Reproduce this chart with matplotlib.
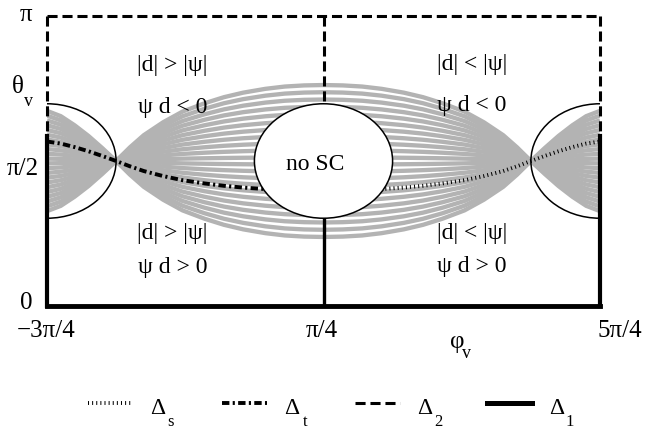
import numpy as np
import matplotlib
matplotlib.use("Agg")
import matplotlib.pyplot as plt
from matplotlib.lines import Line2D
from matplotlib.patches import Ellipse

W, H = 657, 431
PI = np.pi

plt.rcParams['font.family'] = ['Liberation Serif', 'DejaVu Serif']

# shape of the gray curves
# u = phi_v - pi/4 in units of pi, value = offset relative to the one at u = 0
profile_u = [0.0, 0.07, 0.14, 0.21, 0.29, 0.36, 0.43, 0.51, 0.58,
             0.65, 0.70, 0.75, 0.80, 0.85, 0.90, 0.95, 1.0]
profile_val = [1.00, 0.995, 0.98, 0.95, 0.90, 0.84, 0.76, 0.65, 0.51,
               0.34, 0.18, 0.00, -0.17, -0.33, -0.47, -0.59, -0.66]

# offset of each gray curve from pi/2 at phi_v = pi/4 (rad)
gray_amp = [-0.823, -0.745, -0.666, -0.588, -0.510, -0.431, -0.353, -0.274,
            -0.196, -0.118, -0.039, 0.039, 0.118, 0.196, 0.274, 0.353,
            0.431, 0.510, 0.588, 0.666, 0.745, 0.823]
delta_t_amp = -0.32
delta_s_amp = -0.32

theta_switch = 1.84     # edges: Delta_2 above, Delta_1 below
ellipse_w = 1.57
ellipse_h = 1.24

region_texts = ["|d| > |ψ|", "ψ d < 0", "|d| > |ψ|", "ψ d > 0",
                "|d| < |ψ|", "ψ d < 0", "|d| < |ψ|", "ψ d > 0"]
region_pos = [(172, 66), (173, 107), (172, 234), (173, 268),
              (472, 65), (472, 106), (472, 234), (472, 267)]

y_tick_labels = ["π", "π/2", "0"]
y_tick_pos = [(26, 15), (23, 169), (26, 303)]
x_tick_labels = ["−3π/4", "π/4", "5π/4"]
x_tick_pos = [(46, 331), (322, 331), (620, 331)]

legend_names = ["s", "t", "2", "1"]
legend_x = [88, 222, 355, 487]

DELTA_1 = dict(color='black', linestyle='-', linewidth=3.0)
DELTA_2 = dict(color='black', linestyle=(0, (3.3, 1.6)), linewidth=2.2,
               dash_capstyle='butt')
DELTA_T = dict(color='black', linestyle=(0, (1.9, 0.85, 0.55, 0.85)),
               linewidth=2.8, dash_capstyle='butt')
DELTA_S = dict(color='black', linestyle=(0, (0.26, 0.8)), linewidth=2.8,
               dash_capstyle='butt')


def fxy(px, py):
    return px / W, 1 - py / H


def main():
    fig = plt.figure(figsize=(W / 100, H / 100), dpi=100)
    ax = fig.add_axes([47 / W, 1 - 307 / H, 553 / W, 290 / H])
    ax.set_xlim(-3 * PI / 4, 5 * PI / 4)
    ax.set_ylim(0, PI)
    ax.axis('off')

    u = PI * np.array(profile_u)
    val = np.array(profile_val)
    phi = PI / 4 + np.concatenate([-u[::-1], u[1:]])
    g = np.concatenate([val[::-1], val[1:]])
    n = len(u)

    for a in gray_amp:
        ax.plot(phi, PI / 2 + a * g, color='#b3b3b3', lw=3.1,
                solid_capstyle='butt', zorder=1)

    ax.plot(phi[:n], PI / 2 + delta_t_amp * g[:n], zorder=2, **DELTA_T)
    ax.plot(phi[n - 1:], PI / 2 + delta_s_amp * g[n - 1:], zorder=2, **DELTA_S)

    for cx in [-3 * PI / 4, 5 * PI / 4]:
        ax.add_patch(Ellipse((cx, PI / 2), ellipse_w, ellipse_h, fill=False,
                             ec='black', lw=1.1, zorder=3))

    # frame
    x0, x1 = -3 * PI / 4, 5 * PI / 4
    ax.plot([x0, x1], [PI, PI], clip_on=False, zorder=4, **DELTA_2)
    for x in [x0, x1]:
        ax.plot([x, x], [PI, theta_switch], clip_on=False, zorder=4, **DELTA_2)
        ax.plot([x, x], [theta_switch, 0], clip_on=False, zorder=4, **DELTA_1)
    ax.plot([PI / 4, PI / 4], [PI, PI / 2], zorder=4, **DELTA_2)
    ax.plot([PI / 4, PI / 4], [PI / 2, 0], zorder=4,
            **{**DELTA_1, 'linewidth': 2.4})
    ax.plot([x0, x1], [0, 0], clip_on=False, zorder=4,
            **{**DELTA_1, 'linewidth': 3.5})

    ax.add_patch(Ellipse((PI / 4, PI / 2), ellipse_w, ellipse_h, fc='white',
                         ec='black', lw=1.1, zorder=5))
    fig.text(*fxy(315, 164), "no SC", fontsize=17, ha='center', va='center',
             zorder=6)

    for txt, (px, py) in zip(region_texts, region_pos):
        fig.text(*fxy(px, py), txt, fontsize=17, ha='center', va='center')

    for txt, (px, py) in zip(y_tick_labels, y_tick_pos):
        fig.text(*fxy(px, py), txt, fontsize=18, ha='center', va='center')
    fig.text(*fxy(18, 87), "θ", fontsize=18, ha='center', va='center')
    fig.text(*fxy(29, 102), "v", fontsize=13, ha='center', va='center')

    for txt, (px, py) in zip(x_tick_labels, x_tick_pos):
        fig.text(*fxy(px, py), txt, fontsize=18, ha='center', va='center')
    fig.text(*fxy(457, 342), "φ", fontsize=18, ha='center', va='center')
    fig.text(*fxy(467, 354), "v", fontsize=13, ha='center', va='center')

    # legend
    styles = [DELTA_S, DELTA_T, DELTA_2, {**DELTA_1, 'linewidth': 3.6}]
    for name, lx, st in zip(legend_names, legend_x, styles):
        (x_a, y_a), (x_b, _) = fxy(lx, 404), fxy(lx + 45, 404)
        fig.add_artist(Line2D([x_a, x_b], [y_a, y_a], transform=fig.transFigure,
                              **st))
        fig.text(*fxy(lx + 70, 409), "Δ", fontsize=17, ha='center',
                 va='center')
        fig.text(*fxy(lx + 83, 422), name, fontsize=12, ha='center',
                 va='center')

    fig.savefig("out.png", dpi=100)


if __name__ == "__main__":
    main()
